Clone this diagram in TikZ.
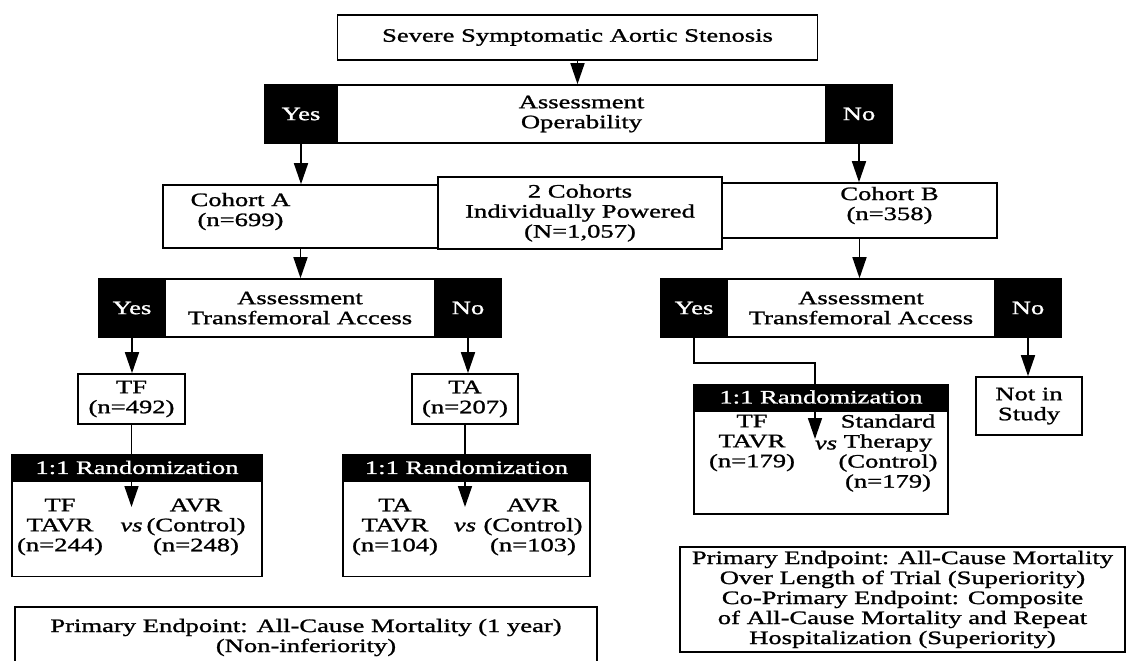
\documentclass[tikz,border=0pt]{standalone}
\usepackage{fontspec}
\setmainfont{Liberation Serif}[FakeStretch=1.4, FakeBold=1.2]
\usetikzlibrary{arrows.meta, calc}

\begin{document}
\begin{tikzpicture}[x=1pt, y=-1pt,
    every node/.style={font=\fontsize{19}{20}\selectfont, inner sep=0pt, align=center},
    wbox/.style={draw, line width=1.6pt, fill=white},
    bbox/.style={draw, line width=1.6pt, fill=black, text=white},
    conn/.style={line width=1.6pt},
    arr/.style={conn, -{Triangle[length=21pt, width=14pt]}}]
  \useasboundingbox (0,0) rectangle (1130,661);

  \node[wbox, minimum width=480pt, minimum height=45pt] (sev) at (577.5,37.5) {Severe Symptomatic Aortic Stenosis};

  \node[wbox, minimum width=489pt, minimum height=58pt] (opmid) at (581.5,114) {Assessment\\Operability};
  \node[bbox, minimum width=72pt, minimum height=58pt] (opyes) at (301,114) {Yes};
  \node[bbox, minimum width=66pt, minimum height=58pt] (opno) at (859,114) {No};
  \draw[arr] (sev.south) -- (sev.south |- opmid.north);

  \node[wbox, minimum width=275pt, minimum height=63pt,
    label={[xshift=-60pt, yshift=5pt]center:{Cohort A\\(n=699)}}] (cohA) at (300.5,216.5) {};
  \node[wbox, minimum width=284pt, minimum height=72pt] (coh2) at (580,213) {2 Cohorts\\Individually Powered\\(N=1,057)};
  \node[wbox, minimum width=275pt, minimum height=55pt,
    label={[xshift=30pt, yshift=5pt]center:{Cohort B\\(n=358)}}] (cohB) at (859.5,210.5) {};
  \draw[arr] (opyes.south) -- (opyes.south |- cohA.north);
  \draw[arr] (opno.south) -- (opno.south |- cohB.north);

  \foreach \nm/\xm/\wm/\xy/\xn in {A/300/270/132/468, B/861/268/694/1028} {
    \node[wbox, minimum width=\wm pt, minimum height=58pt] (tfmid\nm) at (\xm,308) {Assessment\\Transfemoral Access};
    \node[bbox, minimum width=66pt, minimum height=58pt] (tfyes\nm) at (\xy,308) {Yes};
    \node[bbox, minimum width=66pt, minimum height=58pt] (tfno\nm) at (\xn,308) {No};
  }
  \draw[arr] (cohA.south) -- (cohA.south |- tfmidA.north);
  \draw[arr] (cohB.south) -- (cohB.south |- tfmidB.north);

  \node[wbox, minimum width=107pt, minimum height=50pt] (tfA) at (131.5,399) {TF\\(n=492)};
  \node[wbox, minimum width=106pt, minimum height=50pt] (taA) at (465,399) {TA\\(n=207)};
  \node[wbox, minimum width=106pt, minimum height=58pt] (notin) at (1029,406) {Not in\\Study};
  \draw[arr] (tfyesA.south) -- (tfyesA.south |- tfA.north);
  \draw[arr] (tfnoA.south) -- (tfnoA.south |- taA.north);
  \draw[arr] (tfnoB.south) -- (tfnoB.south |- notin.north);

  \foreach \nm/\xc/\bw/\yb/\hb in {TF/137/250/467.5/95, TA/466.5/247/467.5/95, B/821/254/397/103} {
    \node[bbox, minimum width=\bw pt, minimum height=25pt] (rbar\nm) at (\xc,\yb) {1:1 Randomization};
    \node[wbox, minimum width=\bw pt, minimum height=\hb pt, anchor=north] (rbox\nm) at (rbar\nm.south) {};
  }
  \draw[conn] (tfA.south) -- (tfA.south |- rbarTF.north);
  \draw[conn] (taA.south) -- (taA.south |- rbarTA.north);
  \coordinate (elbB) at (815,363);
  \draw[conn] (tfyesB.south) |- (elbB) -- (elbB |- rbarB.north);

  \node (tavrTF) at (60,527) {TF\\TAVR\\(n=244)};
  \node (avrTF) at (196,527) {AVR\\(Control)\\(n=248)};
  \node (vsTF) at (131.5,527) {\textit{vs}};
  \coordinate (tipTF) at (131.5,507);
  \node (tavrTA) at (395,527) {TA\\TAVR\\(n=104)};
  \node (avrTA) at (533,527) {AVR\\(Control)\\(n=103)};
  \node (vsTA) at (465,527) {\textit{vs}};
  \coordinate (tipTA) at (465,507);
  \node (tavrB) at (752,443) {TF\\TAVR\\(n=179)};
  \node (stdB) at (888,453) {Standard\\Therapy\\(Control)\\(n=179)};
  \node (vsB) at (826,445) {\textit{vs}};
  \coordinate (tipB) at (815,439);
  \draw[arr] (rbarTF.south -| tipTF) -- (tipTF);
  \draw[arr] (rbarTA.south -| tipTA) -- (tipTA);
  \draw[arr] (rbarB.south -| tipB) -- (tipB);

  \node[wbox, minimum width=582pt, minimum height=61pt] (epA) at (306,637.5) {Primary Endpoint: All-Cause Mortality (1 year)\\(Non-inferiority)};
  \node[wbox, minimum width=445pt, minimum height=105pt] (epB) at (902.5,599.5) {Primary Endpoint: All-Cause Mortality\\Over Length of Trial (Superiority)\\Co-Primary Endpoint: Composite\\of All-Cause Mortality and Repeat\\Hospitalization (Superiority)};
\end{tikzpicture}
\end{document}
